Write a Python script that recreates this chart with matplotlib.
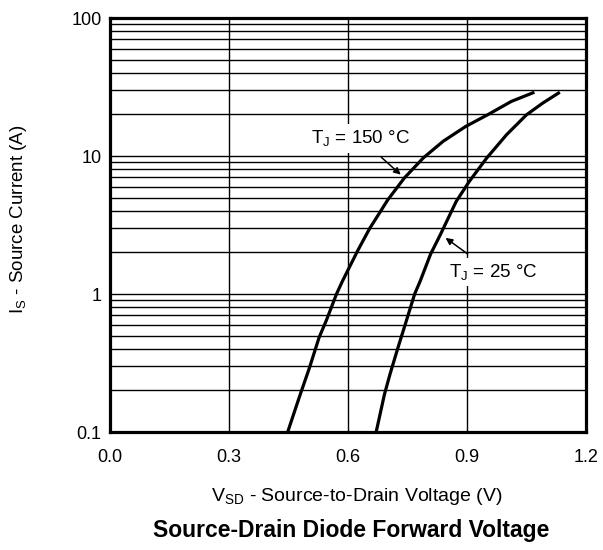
import matplotlib
matplotlib.use("Agg")
import matplotlib.pyplot as plt
from matplotlib.ticker import LogLocator, NullFormatter

plt.rcParams['font.family'] = ['Liberation Sans', 'DejaVu Sans']
plt.rcParams['mathtext.default'] = 'regular'

# curve points (V, A)
v_150 = [0.448, 0.477, 0.503, 0.527, 0.546, 0.571, 0.586, 0.624, 0.655, 0.677,
         0.700, 0.742, 0.790, 0.840, 0.897, 0.952, 1.012, 1.07]
i_150 = [0.1, 0.178, 0.293, 0.483, 0.65, 1.0, 1.24, 2.05, 3.0, 3.77,
         4.8, 6.93, 9.7, 12.8, 16.4, 19.9, 24.9, 29]
v_25 = [0.671, 0.692, 0.706, 0.726, 0.747, 0.768, 0.782, 0.808, 0.833, 0.873,
        0.906, 0.950, 1.000, 1.050, 1.091, 1.134]
i_25 = [0.1, 0.188, 0.263, 0.409, 0.638, 1.0, 1.24, 1.94, 2.70, 4.7,
        6.56, 9.7, 14.3, 19.9, 24.2, 29]

x_ticks = [0.0, 0.3, 0.6, 0.9, 1.2]
x_labels = ['0.0', '0.3', '0.6', '0.9', '1.2']
y_ticks = [0.1, 1, 10, 100]
y_labels = ['0.1', '1', '10', '100']

fig = plt.figure(figsize=(6.03, 5.5), dpi=100)
ax = fig.add_axes([0.1824, 0.2145, 0.7894, 0.7527])

ax.plot(v_150, i_150, color='black', lw=2.3, zorder=3, solid_capstyle='butt')
ax.plot(v_25, i_25, color='black', lw=2.3, zorder=3, solid_capstyle='butt')

ax.set_yscale('log')
ax.set_xlim(0, 1.2)
ax.set_ylim(0.1, 100)

ax.set_xticks(x_ticks)
ax.set_xticklabels(x_labels)
ax.set_yticks(y_ticks)
ax.set_yticklabels(y_labels)
ax.yaxis.set_minor_locator(LogLocator(base=10, subs=range(2, 10)))
ax.yaxis.set_minor_formatter(NullFormatter())

ax.tick_params(which='both', length=0)
ax.tick_params(axis='x', pad=12, labelsize=13)
ax.tick_params(axis='y', pad=6, labelsize=13)

ax.grid(True, which='both', axis='y', color='black', lw=1.0)
ax.grid(True, which='major', axis='x', color='black', lw=1.0)
for s in ax.spines.values():
    s.set_linewidth(2.3)

bbox = dict(facecolor='white', edgecolor='none', pad=3)
ax.annotate('$T_J$ = 150 °C', xy=(0.733, 7.33), xytext=(0.631, 13.4),
            fontsize=13.5, ha='center', va='center', bbox=bbox, zorder=4,
            arrowprops=dict(arrowstyle='-|>', color='black', lw=1.1,
                            shrinkA=5, shrinkB=0, mutation_scale=10))
ax.annotate('$T_J$ = 25 °C', xy=(0.846, 2.55), xytext=(0.965, 1.44),
            fontsize=13.5, ha='center', va='center', bbox=bbox, zorder=4,
            arrowprops=dict(arrowstyle='-|>', color='black', lw=1.1,
                            shrinkA=5, shrinkB=0, mutation_scale=10))

fig.text(0.0315, 0.602, '$I_S$ - Source Current (A)', rotation=90,
         ha='center', va='center', fontsize=13.5)
fig.text(0.592, 0.0964, '$V_{SD}$ - Source-to-Drain Voltage (V)',
         ha='center', va='center', fontsize=14)
fig.text(0.582, 0.036, 'Source-Drain Diode Forward Voltage',
         ha='center', va='center', fontsize=16.5, fontweight='bold')

fig.savefig('out.png', dpi=100)
